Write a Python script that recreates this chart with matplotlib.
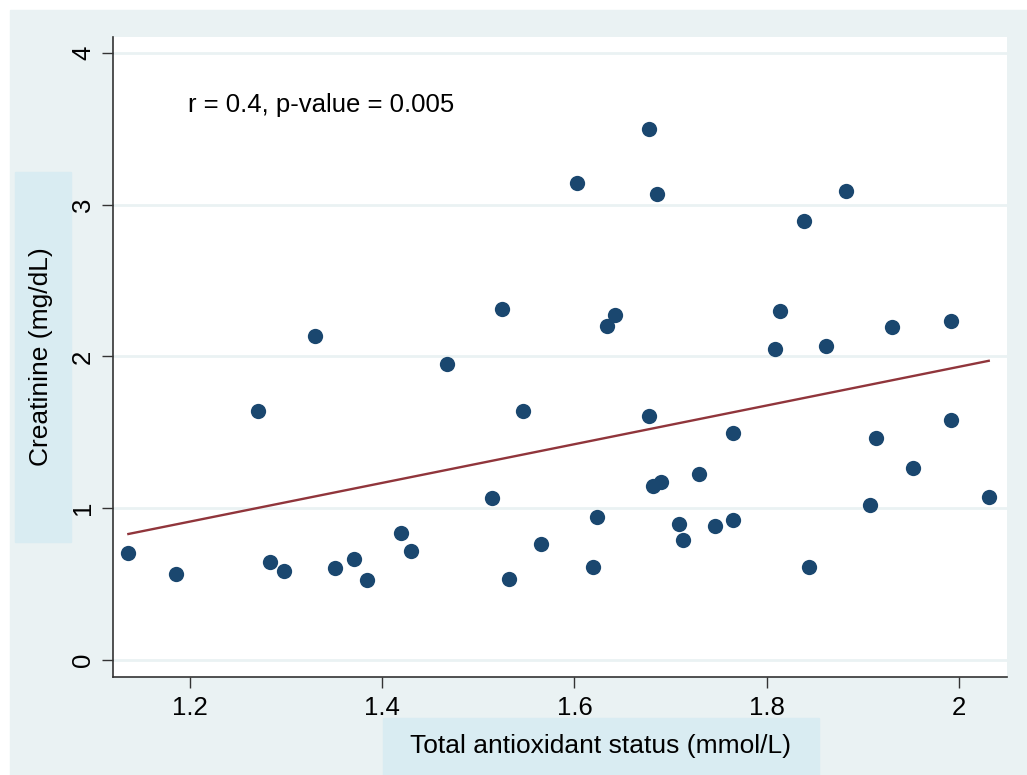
import numpy as np
import matplotlib
matplotlib.use('Agg')
import matplotlib.pyplot as plt
from matplotlib.patches import Rectangle

plt.rcParams['font.family'] = ['Liberation Sans', 'DejaVu Sans']

# Total antioxidant status (mmol/L) vs creatinine (mg/dL)
tas = [1.136, 1.186, 1.271, 1.283, 1.298, 1.330, 1.351, 1.371, 1.384, 1.420,
       1.430, 1.467, 1.514, 1.525, 1.532, 1.546, 1.565, 1.603, 1.619, 1.624,
       1.634, 1.642, 1.678, 1.678, 1.682, 1.686, 1.690, 1.709, 1.713, 1.730,
       1.746, 1.765, 1.765, 1.809, 1.814, 1.839, 1.844, 1.862, 1.883, 1.908,
       1.914, 1.930, 1.952, 1.992, 1.992, 2.031]
creat = [0.705, 0.567, 1.64, 0.646, 0.587, 2.135, 0.606, 0.666, 0.527, 0.837,
         0.718, 1.95, 1.07, 2.31, 0.534, 1.64, 0.764, 3.143, 0.613, 0.942,
         2.20, 2.27, 3.50, 1.608, 1.147, 3.07, 1.173, 0.896, 0.791, 1.226,
         0.883, 0.923, 1.496, 2.05, 2.30, 2.893, 0.613, 2.07, 3.09, 1.02,
         1.463, 2.194, 1.265, 2.234, 1.58, 1.074]
x_ticks = [1.2, 1.4, 1.6, 1.8, 2.0]
x_ticklabels = ['1.2', '1.4', '1.6', '1.8', '2']
y_ticks = [0, 1, 2, 3, 4]
note = 'r = 0.4, p-value = 0.005'

bg = '#eaf2f3'
box = '#d9ecf2'

fig = plt.figure(figsize=(10.27, 7.75), dpi=100)
fig.patch.set_facecolor('white')
W, H = 1027, 775

def px_rect(x0, y0, x1, y1, color):
    fig.patches.append(Rectangle((x0 / W, 1 - y1 / H), (x1 - x0) / W, (y1 - y0) / H,
                                 transform=fig.transFigure, color=color, zorder=-5))

px_rect(10, 10, 1027, 775, bg)
px_rect(15, 172, 71, 542, box)
px_rect(383, 718, 819, 775, box)

ax = fig.add_axes([113 / W, 1 - 677 / H, (1007 - 113) / W, (677 - 37) / H])
ax.set_zorder(5)
ax.set_facecolor('white')

# fitted line
x = np.array(tas)
y = np.array(creat)
slope, icpt = np.polyfit(x, y, 1)
xl = np.array([x.min(), x.max()])
ax.plot(xl, icpt + slope * xl, color='#90353b', lw=1.7, zorder=3)

ax.plot(x, y, 'o', color='#1a476f', ms=11, mew=0, zorder=4)

ax.set_xlim(1.12, 2.05)
ax.set_ylim(-0.112, 4.105)
ax.set_xticks(x_ticks)
ax.set_xticklabels(x_ticklabels)
ax.set_yticks(y_ticks)
ax.set_yticklabels([str(v) for v in y_ticks], rotation=90, va='center')
ax.tick_params(axis='both', labelsize=18.5, length=8, width=1, direction='out', color='#333333')
ax.tick_params(axis='x', pad=6)
ax.tick_params(axis='y', pad=5)
ax.grid(axis='y', color=bg, lw=2)
ax.set_axisbelow(True)
for s in ['top', 'right']:
    ax.spines[s].set_visible(False)
for s in ['left', 'bottom']:
    ax.spines[s].set_color('#333333')
    ax.spines[s].set_linewidth(1.2)

ax.text(1.198, 3.66, note, fontsize=18.5, ha='left', va='center')

fig.text(41 / W, 1 - 357 / H, 'Creatinine (mg/dL)', rotation=90, fontsize=19,
         ha='center', va='center')
fig.text(601 / W, 1 - 746 / H, 'Total antioxidant status (mmol/L)', fontsize=19,
         ha='center', va='center')

fig.savefig('out.png', dpi=100, facecolor=fig.get_facecolor())
